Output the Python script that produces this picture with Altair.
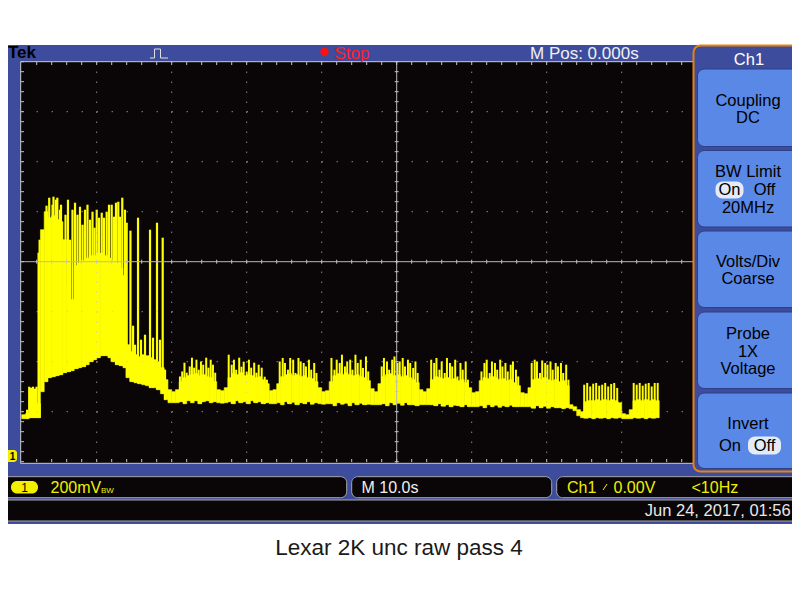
import altair as alt
import pandas as pd

# ---------------- waveform data (time in s, level in mV; 10 s/div, 200 mV/div) ----------------
col_t = [
    -50.0, -49.5, -49.0, -48.5, -48.0, -47.5, -47.0, -46.5, -46.0, -45.5,
    -45.0, -44.5, -44.0, -43.5, -43.0, -42.5, -42.0, -41.5, -41.0, -40.5,
    -40.0, -39.5, -39.0, -38.5, -38.0, -37.5, -37.0, -36.5, -36.0, -35.5,
    -35.0, -34.5, -34.0, -33.5, -33.0, -32.5, -32.0, -31.5, -31.0, -30.5,
    -30.0, -29.5, -29.0, -28.5, -28.0, -27.5, -27.0, -26.5, -26.0, -25.5,
    -25.0, -24.5, -24.0, -23.5, -23.0, -22.5, -22.0, -21.5, -21.0, -20.5,
    -20.0, -19.5, -19.0, -18.5, -18.0, -17.5, -17.0, -16.5, -16.0, -15.5,
    -15.0, -14.5, -14.0, -13.5, -13.0, -12.5, -12.0, -11.5, -11.0, -10.5,
    -10.0, -9.5, -9.0, -8.5, -8.0, -7.5, -7.0, -6.5, -6.0, -5.5,
    -5.0, -4.5, -4.0, -3.5, -3.0, -2.5, -2.0, -1.5, -1.0, -0.5,
    0.0, 0.5, 1.0, 1.5, 2.0, 2.5, 3.0, 3.5, 4.0, 4.5,
    5.0, 5.5, 6.0, 6.5, 7.0, 7.5, 8.0, 8.5, 9.0, 9.5,
    10.0, 10.5, 11.0, 11.5, 12.0, 12.5, 13.0, 13.5, 14.0, 14.5,
    15.0, 15.5, 16.0, 16.5, 17.0, 17.5, 18.0, 18.5, 19.0, 19.5,
    20.0, 20.5, 21.0, 21.5, 22.0, 22.5, 23.0, 23.5, 24.0, 24.5,
    25.0, 25.5, 26.0, 26.5, 27.0, 27.5, 28.0, 28.5, 29.0, 29.5,
    30.0, 30.5, 31.0, 31.5, 32.0, 32.5, 33.0, 33.5, 34.0, 34.5,
]
col_hi = [
    164, 168, 200, 208, 208, 904, 976, 952, 960, 944,
    936, 864, 684, 624, 760, 770, 780, 790, 800, 800,
    810, 810, 800, 790, 780, 770, 750, 720, 444, 416,
    404, 396, 404, 400, 392, 384, 376, 352, 304, 264,
    256, 264, 296, 312, 320, 324, 328, 320, 324, 316,
    312, 296, 264, 260, 272, 312, 328, 324, 332, 320,
    324, 320, 312, 316, 304, 288, 260, 264, 288, 316,
    324, 328, 320, 324, 316, 320, 312, 308, 296, 272,
    256, 260, 296, 320, 328, 324, 332, 324, 320, 324,
    316, 312, 300, 268, 256, 288, 316, 324, 328, 320,
    324, 316, 320, 312, 304, 292, 264, 256, 268, 304,
    316, 312, 308, 312, 304, 308, 300, 304, 292, 272,
    252, 256, 300, 312, 308, 316, 312, 304, 308, 300,
    304, 292, 280, 252, 248, 272, 304, 308, 304, 312,
    304, 300, 304, 296, 300, 280, 204, 196, 184, 176,
    216, 220, 220, 224, 220, 224, 220, 224, 220, 212,
    168, 164, 184, 220, 224, 220, 224, 220, 224, 220,
]
col_lo = [
    148, 148, 152, 152, 152, 256, 296, 312, 316, 320,
    324, 332, 336, 340, 348, 352, 356, 364, 376, 384,
    392, 400, 400, 392, 376, 364, 360, 352, 312, 296,
    292, 288, 284, 280, 272, 272, 264, 248, 224, 212,
    212, 212, 216, 208, 220, 212, 220, 208, 216, 220,
    212, 216, 212, 210, 212, 216, 208, 220, 212, 216,
    208, 220, 212, 216, 208, 212, 208, 208, 212, 204,
    216, 208, 214, 204, 212, 208, 216, 206, 212, 208,
    206, 208, 208, 200, 212, 206, 210, 200, 212, 204,
    210, 204, 206, 204, 204, 204, 208, 200, 212, 204,
    210, 202, 212, 204, 204, 200, 204, 204, 204, 204,
    200, 208, 198, 204, 196, 202, 200, 196, 204, 196,
    196, 196, 200, 192, 204, 196, 202, 194, 200, 196,
    202, 196, 196, 196, 196, 196, 190, 200, 192, 198,
    190, 196, 192, 192, 188, 192, 188, 180, 160, 152,
    150, 152, 148, 152, 150, 152, 148, 152, 150, 152,
    148, 148, 148, 152, 150, 152, 148, 152, 150, 152,
]
spike_t = [
    -49.28, -49.0, -48.77, -48.49, -48.23, -48.02,
    -47.75, -47.61,
    -46.69, -46.33, -45.89, -45.76, -45.43, -45.25, -44.89,
    -44.76, -44.16, -43.83, -43.56, -43.23, -42.89, -42.56, -42.23, -41.89, -41.56,
    -41.23, -40.89, -40.56, -40.29, -40.0, -39.69, -39.33, -39.03, -38.67, -38.36,
    -38.0, -37.69, -37.43, -37.12, -36.89, -36.59, -36.23, -36.0,
    -35.5, -35.15, -34.89, -34.49, -34.09, -33.56, -32.89, -32.49, -31.96, -31.56, -31.2, -30.89,
    -28.9, -28.6, -28.3, -28.0, -27.6, -27.3, -27.0, -26.7, -26.4, -26.1, -25.8, -25.4, -25.1, -24.8, -24.5, -24.2,
    -22.4, -22.0, -21.7, -21.4, -21.0, -20.7, -20.4, -20.0, -19.7, -19.4, -19.0, -18.7, -18.4, -18.0, -17.6, -17.3,
    -15.6, -15.2, -14.9, -14.5, -14.2, -13.8, -13.5, -13.1, -12.8, -12.4, -12.1, -11.7, -11.4, -11.0, -10.7,
    -8.7, -8.3, -8.0, -7.6, -7.3, -6.9, -6.6, -6.2, -5.9, -5.5, -5.2, -4.8, -4.5, -4.1, -3.8,
    -2.0, -1.7, -1.3, -1.0, -0.6, -0.3, 0.1, 0.4, 0.8, 1.1, 1.5, 1.8, 2.2, 2.5, 2.8,
    4.6, 5.0, 5.3, 5.7, 6.0, 6.4, 6.7, 7.1, 7.4, 7.8, 8.1, 8.5, 8.8, 9.2, 9.5,
    11.3, 11.7, 12.0, 12.4, 12.7, 13.1, 13.4, 13.8, 14.1, 14.5, 14.8, 15.2, 15.5, 15.9, 16.2,
    18.0, 18.4, 18.7, 19.1, 19.4, 19.8, 20.1, 20.5, 20.8, 21.2, 21.5, 21.9, 22.2, 22.6, 22.9,
    25.0, 25.4, 25.8, 26.2, 26.6, 27.0, 27.4, 27.8, 28.2, 28.6, 29.0, 29.4,
    31.6, 32.0, 32.4, 32.8, 33.2, 33.6, 34.0, 34.4, 34.8,
]
spike_top = [
    184, 276, 272, 276, 268, 276,
    812, 864,
    1000, 1032, 1004, 1036, 1024, 1032, 984,
    1004, 964, 1024, 864, 984, 1012, 964, 996, 924, 984,
    1004, 944, 976, 912, 984, 952, 972, 952, 976, 1004,
    1004, 956, 1012, 1016, 956, 1032, 984, 932,
    900, 520, 444, 952, 464, 484, 904, 472, 932, 464, 872, 344,
    317, 337, 372, 332, 357, 392, 352, 384, 344, 377, 364, 392, 352, 384, 364, 332,
    404, 364, 384, 344, 392, 356, 376, 336, 384, 352, 372, 332, 364, 352, 316, 304,
    377, 391, 371, 344, 391, 384, 331, 391, 377, 371, 357, 384, 344, 371, 331,
    391, 344, 384, 371, 404, 357, 377, 384, 344, 404, 371, 384, 351, 397, 337,
    357, 391, 377, 344, 384, 397, 371, 377, 391, 357, 384, 371, 351, 377, 331,
    384, 371, 391, 344, 377, 331, 391, 371, 357, 384, 317, 371, 344, 377, 304,
    337, 371, 384, 331, 377, 371, 344, 384, 357, 371, 337, 364, 377, 344, 317,
    371, 384, 377, 331, 381, 371, 364, 377, 344, 371, 357, 371, 331, 364, 304,
    284, 291, 277, 288, 291, 280, 284, 291, 277, 287, 291, 271,
    291, 284, 291, 280, 288, 291, 277, 291, 291,
]

# graticule (major divisions, in data units)
grid_t = [-40, -30, -20, -10, 10, 20, 30, 40]
grid_mv = [176, 376, 576, 976, 1176, 1376]
center_t = [0]
center_mv = [776]
minor_t = list(range(-48, 50, 2))
minor_mv = [-24 + 40 * k for k in range(41)]

# ---------------- styles ----------------
FONT = "Liberation Sans"
BLUE = "#3d4c9c"
BTN = "#5a88e6"
BLACK = "#0a0608"
YEL = "#ffff00"
SYEL = "#f0f000"
ORANGE = "#e8820c"
GRID = "#c4c4c4"

XS = alt.Scale(domain=[-50, 50], range=[13.7, 763.7], nice=False, zero=False)
YS = alt.Scale(domain=[-24, 1576], range=[453.7, 53.7], nice=False, zero=False)

ONE = alt.Data(values=[{"k": 0}])


def px(v):
    return alt.value(v - 8)


def rect(x1, y1, x2, y2, **kw):
    return alt.Chart(ONE).mark_rect(**kw).encode(x=px(x1), x2=px(x2), y=px(y1), y2=px(y2))


def hrule(x1, x2, y, color="#ffffff", w=1, **kw):
    return alt.Chart(ONE).mark_rule(color=color, strokeWidth=w, **kw).encode(x=px(x1), x2=px(x2), y=px(y))


def vrule(x, y1, y2, color="#ffffff", w=1, **kw):
    return alt.Chart(ONE).mark_rule(color=color, strokeWidth=w, **kw).encode(x=px(x), y=px(y1), y2=px(y2))


def txt(s, x, y, size=16.5, color="#000000", align="left", weight="normal"):
    return alt.Chart(ONE).mark_text(
        text=s, font=FONT, fontSize=size, color=color, align=align,
        baseline="middle", fontWeight=weight,
    ).encode(x=px(x), y=px(y))


cols = pd.DataFrame({"t": col_t, "t2": [t + 0.5 for t in col_t], "lo": col_lo, "hi": col_hi})
idx = [min(int((t - col_t[0]) // 0.5), len(col_t) - 1) for t in spike_t]
spikes = pd.DataFrame({"t": spike_t, "top": spike_top, "lo": [col_lo[i] for i in idx]})
spikes_a = spikes[spikes["t"] < -30]
spikes_b = spikes[spikes["t"] >= -30]

X = lambda f: alt.X(f, scale=XS, axis=None)
Y = lambda f: alt.Y(f, scale=YS, axis=None)

layers = []
# scope frame and screen
layers.append(rect(0, 45, 800, 524, color=BLUE))
layers.append(rect(21, 62, 693, 463, color=BLACK))

# trace
layers.append(alt.Chart(cols).mark_rect(color=YEL, stroke=YEL, strokeWidth=0.6).encode(
    x=X("t:Q"), x2="t2:Q", y=Y("hi:Q"), y2="lo:Q"))
layers.append(alt.Chart(spikes_a).mark_rule(color=YEL, strokeWidth=2.2).encode(
    x=X("t:Q"), y=Y("top:Q"), y2="lo:Q"))
layers.append(alt.Chart(spikes_b).mark_rule(color=YEL, strokeWidth=2.0).encode(
    x=X("t:Q"), y=Y("top:Q"), y2="lo:Q"))

# graticule drawn over the trace
layers.append(alt.Chart(pd.DataFrame({"t": grid_t})).mark_rule(color=GRID, strokeWidth=1, strokeDash=[1, 9]).encode(
    x=X("t:Q"), y=px(61.7), y2=px(462)))
layers.append(alt.Chart(pd.DataFrame({"mv": grid_mv})).mark_rule(color=GRID, strokeWidth=1, strokeDash=[1, 14]).encode(
    y=Y("mv:Q"), x=px(21.7), x2=px(693)))
layers.append(alt.Chart(pd.DataFrame({"t": center_t})).mark_rule(color="#b8b8b8", strokeWidth=1).encode(
    x=X("t:Q"), y=px(61.7), y2=px(463)))
layers.append(alt.Chart(pd.DataFrame({"mv": center_mv})).mark_rule(color="#b8b8b8", strokeWidth=1).encode(
    y=Y("mv:Q"), x=px(21), x2=px(693)))
mt = pd.DataFrame({"t": minor_t})
mm = pd.DataFrame({"mv": minor_mv})
layers.append(alt.Chart(mt).mark_rule(color=GRID, strokeWidth=1).encode(x=X("t:Q"), y=px(62), y2=px(65)))
layers.append(alt.Chart(mt).mark_rule(color=GRID, strokeWidth=1).encode(x=X("t:Q"), y=px(459), y2=px(462)))
layers.append(alt.Chart(mt).mark_rule(color=GRID, strokeWidth=1).encode(x=X("t:Q"), y=px(259.7), y2=px(263.7)))
layers.append(alt.Chart(mm).mark_rule(color=GRID, strokeWidth=1).encode(y=Y("mv:Q"), x=px(21), x2=px(24)))
layers.append(alt.Chart(mm).mark_rule(color=GRID, strokeWidth=1).encode(y=Y("mv:Q"), x=px(394.7), x2=px(398.7)))

# screen border
layers.append(hrule(20.5, 693, 61.7, color="#c8c8c8"))
layers.append(hrule(20.5, 693, 463.3, color="#c8c8c8"))
layers.append(vrule(20.7, 61.7, 463.3, color="#c8c8c8"))

# right side menu
layers.append(rect(693.5, 45.5, 810, 471.5, color=BLUE, stroke=ORANGE, strokeWidth=2, cornerRadius=7))
for (y1, y2) in [(69, 146.5), (150.5, 227), (231, 307.5), (312, 388.5), (393, 468.5)]:
    layers.append(rect(697.5, y1, 810, y2, color=BTN, stroke="#2d3f88", strokeWidth=1, cornerRadius=7))
layers.append(txt("Ch1", 749, 59.5, color="#ffffff", align="center"))
layers.append(txt("Coupling", 748, 100.5, align="center"))
layers.append(txt("DC", 748, 117.5, align="center"))
layers.append(txt("BW Limit", 748, 171.5, align="center"))
layers.append(rect(715.5, 181.5, 743.5, 198.5, color="#e4ebf7", cornerRadius=7))
layers.append(txt("On", 729.5, 190, align="center"))
layers.append(txt("Off", 764.5, 190, align="center"))
layers.append(txt("20MHz", 748, 208, align="center"))
layers.append(txt("Volts/Div", 748, 261.5, align="center"))
layers.append(txt("Coarse", 748, 279, align="center"))
layers.append(txt("Probe", 748, 333.5, align="center"))
layers.append(txt("1X", 748, 351.5, align="center"))
layers.append(txt("Voltage", 748, 369, align="center"))
layers.append(txt("Invert", 748, 423.5, align="center"))
layers.append(txt("On", 730, 445.5, align="center"))
layers.append(rect(748, 436.5, 781, 454.5, color="#e4ebf7", cornerRadius=7))
layers.append(txt("Off", 764.5, 445.5, align="center"))

# top status line
layers.append(txt("Tek", 8, 53, size=17, weight="bold"))
layers.append(hrule(150, 154.5, 58, color="#e0e0e0"))
layers.append(vrule(154.5, 49, 58, color="#e0e0e0"))
layers.append(hrule(154.5, 160.5, 49, color="#e0e0e0"))
layers.append(vrule(160.5, 49, 58, color="#e0e0e0"))
layers.append(hrule(160.5, 168, 58, color="#e0e0e0"))
layers.append(alt.Chart(ONE).mark_circle(size=70, color="#ff1010", opacity=1).encode(x=px(324.5), y=px(52)))
layers.append(txt("Stop", 334.5, 53.5, size=17, color="#ff2020"))
layers.append(txt("M Pos: 0.000s", 530, 53.5, size=17, color="#f0f0f0"))

# channel ground marker
layers.append(rect(0, 450, 17, 462, color=SYEL, cornerRadius=3))
layers.append(txt("1", 12.5, 456.5, size=10, weight="bold", align="center"))

# bottom readouts
for (x1, y1, x2, y2) in [(1.7, 476.7, 346.7, 497.7), (351.7, 476.7, 551.7, 497.7),
                         (556.7, 476.7, 798.3, 497.7), (1.7, 500, 798.3, 521)]:
    layers.append(rect(x1, y1, x2, y2, color=BLACK, stroke="#a8a8a8", strokeWidth=1, cornerRadius=6))
layers.append(rect(11, 481, 38, 493.5, color=SYEL, cornerRadius=6))
layers.append(txt("1", 24.5, 487.5, size=12, align="center"))
layers.append(txt("200mV", 50.5, 487.5, size=16, color=SYEL))
layers.append(txt("BW", 101, 491, size=8, color=SYEL))
layers.append(txt("M 10.0s", 361.5, 487.5, size=16, color="#f0f0f0"))
layers.append(txt("Ch1", 567, 488, size=16, color=SYEL))
layers.append(alt.Chart(ONE).mark_rule(color=SYEL, strokeWidth=1).encode(x=px(603), y=px(490), x2=px(607), y2=px(484)))
layers.append(txt("0.00V", 613.5, 488, size=16, color=SYEL))
layers.append(txt("<10Hz", 691.5, 488, size=16, color=SYEL))
layers.append(txt("Jun 24, 2017, 01:56", 790.7, 510.5, size=16.5, color="#e8e8e8", align="right"))

# caption
layers.append(txt("Lexar 2K unc raw pass 4", 399, 548, size=22.5, color="#1a1a1a", align="center"))

chart = alt.layer(*layers).properties(
    width=784, height=570, padding=0, background="white",
    autosize=alt.AutoSizeParams(type="none"),
).configure_view(stroke=None)

chart.save("out.html", embed_options={"renderer": "svg", "actions": False})
